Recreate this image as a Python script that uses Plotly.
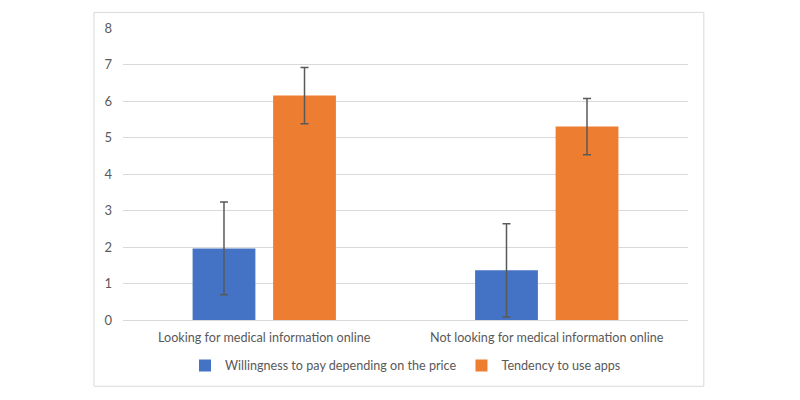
import plotly.graph_objects as go

# Values
categories = ["Looking for medical information online", "Not looking for medical information online"]
willingness = [1.96, 1.36]
willingness_err = [1.27, 1.28]
tendency = [6.15, 5.30]
tendency_err = [0.77, 0.77]
y_ticks = [0, 1, 2, 3, 4, 5, 6, 7, 8]

font_family = "Lato, Open Sans, sans-serif"
grey_text = "#595959"
grid_color = "#d9d9d9"

fig = go.Figure()

fig.add_trace(go.Bar(
    x=categories,
    y=willingness,
    name="Willingness to pay depending on the price",
    marker=dict(color="#4472c4", line=dict(width=0)),
    error_y=dict(type="data", array=willingness_err, color="#595959", thickness=1.5, width=4),
))

fig.add_trace(go.Bar(
    x=categories,
    y=tendency,
    name="Tendency to use apps",
    marker=dict(color="#ed7d31", line=dict(width=0)),
    error_y=dict(type="data", array=tendency_err, color="#595959", thickness=1.5, width=4),
))

# outer chart border
fig.add_shape(
    type="rect",
    xref="paper", yref="paper",
    x0=-0.0513, x1=1.028, y0=-0.227, y1=1.0535,
    line=dict(color=grid_color, width=1),
    fillcolor="rgba(0,0,0,0)",
    layer="below",
)

# the page body adds an 8px offset, so margins are shifted to compensate
fig.update_layout(
    width=800,
    height=400,
    margin=dict(l=115, r=120, t=13, b=88),
    paper_bgcolor="white",
    plot_bgcolor="white",
    barmode="group",
    bargap=0.43,
    bargroupgap=0.22,
    font=dict(family=font_family, size=12.6, color=grey_text),
    showlegend=True,
    legend=dict(
        orientation="h",
        x=0.5, xanchor="center",
        y=-0.157, yanchor="middle",
        font=dict(size=12.6, color=grey_text),
        itemwidth=30,
        traceorder="normal",
    ),
)

fig.update_xaxes(
    showgrid=False,
    showline=False,
    ticks="",
    ticklabelstandoff=8,
    tickfont=dict(size=12.6, color=grey_text),
)

fig.update_yaxes(
    range=[0, 8],
    tickvals=y_ticks,
    showgrid=True,
    gridcolor=grid_color,
    gridwidth=1,
    zeroline=True,
    zerolinecolor=grid_color,
    zerolinewidth=1,
    showline=False,
    ticks="",
    ticklabelstandoff=10,
    tickfont=dict(size=13, color=grey_text),
)

fig.write_html("out.html")
